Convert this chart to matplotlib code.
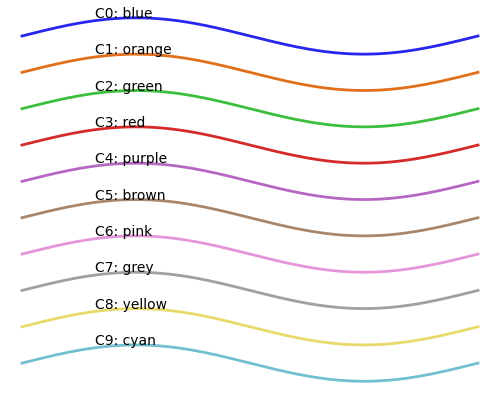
import numpy as np
import matplotlib
matplotlib.use('Agg')
import matplotlib.pyplot as plt

names = ['blue', 'orange', 'green', 'red', 'purple', 'brown', 'pink', 'grey', 'yellow', 'cyan']
colors = ['#2626ee', '#e0701c', '#3cbf3c', '#d62a2a', '#b567c2',
          '#a8876c', '#e496d8', '#a0a0a0', '#e8d96a', '#72bfcf']

th = np.linspace(0, 2*np.pi, 256)

fig = plt.figure(figsize=(5, 4), dpi=100)
ax = fig.add_axes([0, 0, 1, 1])
for i in range(len(names)):
	ax.plot(th, np.sin(th) - 2*i, color=colors[i], lw=2)
	ax.text(1.0, 1 - 2*i, 'C%d: %s' % (i, names[i]), fontsize=10, va='baseline', ha='left')

ax.set_xlim(-0.303, 2*np.pi + 0.303)
ax.set_ylim(-20.03, 1.98)
ax.axis('off')
fig.savefig('out.png', dpi=100)
